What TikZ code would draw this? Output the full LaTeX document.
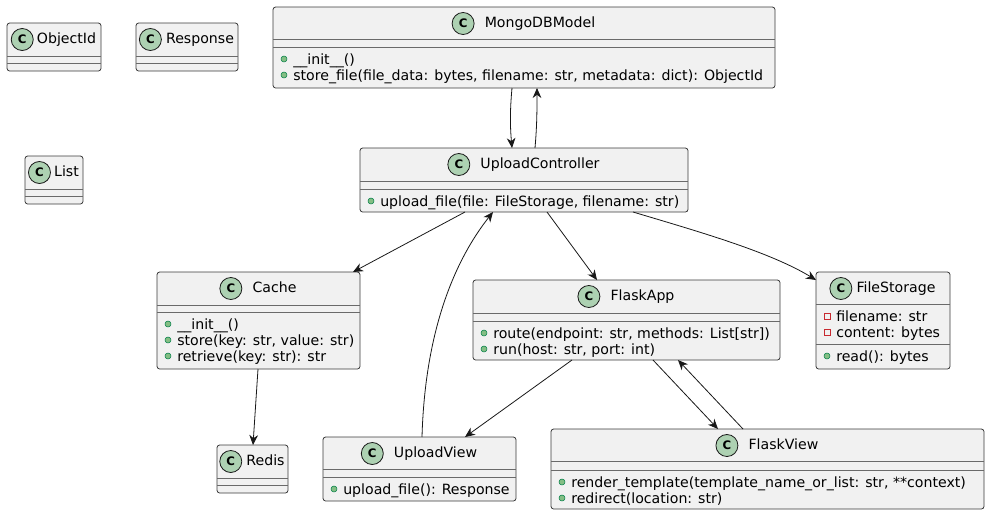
\documentclass[tikz,border=0pt]{standalone}
\usepackage{fontspec}
\setmainfont{DejaVu Sans}
\usetikzlibrary{arrows.meta,positioning}
\definecolor{umlline}{HTML}{181818}
\definecolor{umlsep}{HTML}{6A6A6A}
\definecolor{umlfill}{HTML}{F1F1F1}
\definecolor{umlbadge}{HTML}{ADD1B2}
\definecolor{umlpub}{HTML}{84BE84}
\definecolor{umlpubline}{HTML}{038048}
\definecolor{umlpriv}{HTML}{C82930}

\begin{document}
\begin{tikzpicture}[x=0.75pt,y=-0.75pt,
	font=\fontsize{10.6}{12}\selectfont,
	classbox/.style={draw=umlline!85,fill=umlfill,line width=0.6pt,rounded corners=2pt,
		inner sep=0pt,outer sep=0pt,anchor=north west},
	classtitle/.style={inner sep=0pt,text height=7.6pt,text depth=2.2pt},
	badge/.style={circle,draw=umlline,fill=umlbadge,line width=0.6pt,minimum size=16.5pt,
		inner sep=0pt,font=\fontsize{8.8}{9}\bfseries\selectfont},
	pub/.style={circle,draw=umlpubline,fill=umlpub,minimum size=4.5pt,inner sep=0pt,line width=0.4pt},
	priv/.style={rectangle,draw=umlpriv,minimum size=4.5pt,inner sep=0pt,line width=0.6pt},
	link/.style={draw=umlline,line width=0.6pt,-{Stealth[length=7.5pt,width=6.5pt,inset=2.4pt]}}]

		\useasboundingbox (0,0) rectangle (990,515);

		\foreach \nm/\xa/\ya/\xb/\yb/\sa/\sb/\g/\ttl in
		{
			oid/7/23/101/71/56/63/3/ObjectId, resp/136/23/238/71/56/63/4/Response,
			lst/25/156/83/204/189/196/3/List, mongo/273/7/775/88/39/47/10/MongoDBModel,
			ctrl/360/148/688/212/181/189/10/UploadController, cache/157/272/360/369/305/312/10/Cache,
			app/473/280/780/360/313/321/10/FlaskApp, store/816/272/950/369/304/344/4/FileStorage,
			redis/217/445/288/493/478/485/4/Redis, uview/323/437/516/501/469/477/10/UploadView,
			fview/551/429/984/509/461/470/10/FlaskView
		}
		{
			\pgfmathsetmacro{\w}{(\xb-\xa)*0.75}
			\pgfmathsetmacro{\h}{(\yb-\ya)*0.75}
			\pgfmathsetmacro{\cx}{(\xa+\xb)/2+(22+\g)/2}
			\pgfmathsetmacro{\hy}{\ya+16.5}
			\pgfmathsetmacro{\gap}{\g*0.75}
			\node[classbox,minimum width=\w pt,minimum height=\h pt] (\nm) at (\xa,\ya) {};
			\draw[umlsep,line width=0.6pt] (\xa,\sa) -- (\xb,\sa) (\xa,\sb) -- (\xb,\sb);
			\node[classtitle] (\nm title) at (\cx,\hy) {\ttl};
			\node[badge,left=\gap pt of \nm title] (\nm badge) {C};
		}

		\foreach \xa/\yy/\v/\ttl in
		{
			273/59/pub/{\_\_init\_\_()},
			273/75/pub/{store\_file(file\_data: bytes, filename: str, metadata: dict): ObjectId},
			360/201/pub/{upload\_file(file: FileStorage, filename: str)},
			157/324/pub/{\_\_init\_\_()}, 157/340/pub/{store(key: str, value: str)},
			157/356/pub/{retrieve(key: str): str},
			473/333/pub/{route(endpoint: str, methods: List[str])},
			473/349/pub/{run(host: str, port: int)},
			816/316/priv/{filename: str}, 816/332/priv/{content: bytes},
			816/356/pub/{read(): bytes},
			323/489/pub/{upload\_file(): Response},
			551/482/pub/{render\_template(template\_name\_or\_list: str, **context)},
			551/498/pub/{redirect(location: str)}
		}
		{
			\node[\v] at (\xa+11,\yy) {};
			\node[anchor=base west,inner sep=0pt] at (\xa+20,\yy+5) {\ttl};
		}

		\draw[link] (512,0 |- mongo.south) .. controls (510,110) and (510,125) .. (512,0 |- ctrl.north);
		\draw[link] (535,0 |- ctrl.north) .. controls (537,125) and (537,110) .. (537,0 |- mongo.south);
		\draw[link] (465,0 |- ctrl.south) -- (353,0 |- cache.north);
		\draw[link] (422,0 |- uview.north) .. controls (425,330) and (455,260) .. (493,0 |- ctrl.south);
		\draw[link] (547,0 |- ctrl.south) -- (597,0 |- app.north);
		\draw[link] (633,0 |- ctrl.south) .. controls (700,232) and (770,252) .. (store.west |- 0,280);
		\draw[link] (258,0 |- cache.south) -- (253,0 |- redis.north);
		\draw[link] (572,0 |- app.south) -- (465,0 |- uview.north);
		\draw[link] (653,0 |- app.south) -- (718,0 |- fview.north);
		\draw[link] (743,0 |- fview.north) -- (678,0 |- app.south);
\end{tikzpicture}
\end{document}
